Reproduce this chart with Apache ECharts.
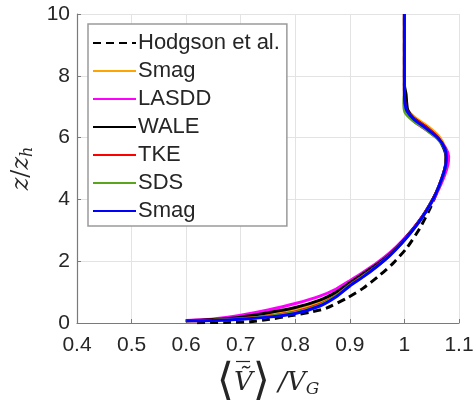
<!DOCTYPE html>
<html>
<head>
<meta charset="utf-8">
<script src="https://cdn.jsdelivr.net/npm/echarts@6/dist/echarts.min.js"></script>
<style>
html,body{margin:0;padding:0;background:#fff;}
#chart{width:476px;height:413px;}
</style>
</head>
<body>
<div id="chart"></div>
<script>
// ---- data: [x = <V>/V_G, y = z/z_h] ----
var hodgson = [[0.62,0.01],[0.67,0.02],[0.717,0.04],[0.753,0.12],[0.79,0.23],[0.827,0.35],[0.857,0.48],[0.894,0.80],[0.924,1.12],[0.955,1.55],[0.979,1.93],[1.004,2.42],[1.028,3.06],[1.047,3.71],[1.060,4.25],[1.070,4.70],[1.076,5.10],[1.077,5.40],[1.073,5.70],[1.060,6.02],[1.038,6.33],[1.016,6.62],[1.003,6.90],[1.000,7.20],[1.000,10]];
var smagA = [[0.600,0.07],[0.65,0.10],[0.70,0.16],[0.75,0.27],[0.80,0.43],[0.845,0.66],[0.875,0.94],[0.90,1.26],[0.925,1.56],[0.95,1.87],[0.973,2.21],[0.995,2.60],[1.015,3.02],[1.032,3.42],[1.046,3.82],[1.058,4.22],[1.068,4.66],[1.075,5.06],[1.077,5.36],[1.075,5.66],[1.064,6.02],[1.043,6.36],[1.020,6.64],[1.005,6.90],[1.001,7.15],[1.000,7.5],[1.000,10]];
var lasdd = [[0.600,0.08],[0.65,0.13],[0.70,0.25],[0.75,0.42],[0.80,0.63],[0.845,0.87],[0.875,1.10],[0.90,1.37],[0.925,1.65],[0.95,1.95],[0.975,2.30],[0.997,2.68],[1.017,3.08],[1.035,3.50],[1.050,3.90],[1.062,4.30],[1.073,4.75],[1.080,5.15],[1.081,5.40],[1.076,5.65],[1.062,5.95],[1.040,6.25],[1.018,6.52],[1.004,6.80],[1.000,7.10],[1.000,10]];
var wale = [[0.600,0.07],[0.65,0.11],[0.70,0.19],[0.75,0.33],[0.80,0.50],[0.845,0.74],[0.875,1.00],[0.90,1.30],[0.925,1.60],[0.95,1.90],[0.974,2.24],[0.996,2.63],[1.016,3.04],[1.033,3.44],[1.047,3.84],[1.059,4.24],[1.069,4.68],[1.075,5.08],[1.076,5.38],[1.072,5.66],[1.060,6.02],[1.038,6.36],[1.016,6.64],[1.006,6.90],[1.004,7.15],[1.003,7.40],[1.000,7.70],[1.000,10]];
var tke = [[0.600,0.07],[0.65,0.09],[0.70,0.14],[0.75,0.22],[0.80,0.36],[0.845,0.60],[0.875,0.89],[0.90,1.23],[0.925,1.53],[0.95,1.85],[0.973,2.19],[0.995,2.59],[1.015,3.01],[1.032,3.41],[1.046,3.81],[1.058,4.21],[1.068,4.65],[1.075,5.05],[1.077,5.35],[1.074,5.65],[1.062,5.99],[1.041,6.32],[1.019,6.60],[1.005,6.86],[1.001,7.10],[1.000,7.5],[1.000,10]];
var sds = [[0.598,0.07],[0.65,0.09],[0.70,0.13],[0.75,0.21],[0.80,0.34],[0.845,0.58],[0.875,0.88],[0.90,1.22],[0.925,1.52],[0.95,1.84],[0.973,2.18],[0.995,2.58],[1.015,3.00],[1.032,3.40],[1.046,3.80],[1.058,4.20],[1.068,4.64],[1.075,5.04],[1.077,5.34],[1.074,5.64],[1.061,5.96],[1.038,6.28],[1.015,6.56],[1.001,6.82],[0.999,7.10],[1.000,7.5],[1.000,10]];
var smagB = [[0.600,0.07],[0.65,0.08],[0.70,0.12],[0.75,0.19],[0.80,0.31],[0.845,0.55],[0.875,0.85],[0.90,1.20],[0.925,1.50],[0.949,1.82],[0.973,2.18],[0.995,2.58],[1.015,3.00],[1.032,3.40],[1.046,3.80],[1.058,4.20],[1.068,4.65],[1.075,5.05],[1.077,5.35],[1.074,5.65],[1.062,5.98],[1.040,6.30],[1.018,6.58],[1.005,6.85],[1.001,7.10],[1.000,7.5],[1.000,10]];

var seriesNames = ['Hodgson et al.','Smag','LASDD','WALE','TKE','SDS','Smag '];
var seriesData = [hodgson, smagA, lasdd, wale, tke, sds, smagB];
var seriesColors = ['#000000','#FFA500','#FF00FF','#000000','#FF0000','#5BA51E','#0000FF'];
var xTicks = {min:0.4, max:1.1, interval:0.1};
var yTicks = {min:0, max:10, interval:2};

var chart = echarts.init(document.getElementById('chart'), null, {renderer:'canvas'});
var txt = '#262626';
var series = seriesNames.map(function(n,i){
  return {
    name:n, type:'line', data:seriesData[i], showSymbol:false, symbol:'none',
    smooth:0.2, z: 2+i,
    lineStyle:{color:seriesColors[i], width:3, type: i===0 ? [8,5] : 'solid'},
    itemStyle:{color:seriesColors[i]}
  };
});
chart.setOption({
  animation:false,
  backgroundColor:'#ffffff',
  grid:{left:77, right:17, top:14, bottom:90, containLabel:false, outerBoundsMode:'none'},
  legend:{
    orient:'vertical', left:88, top:24,
    data:seriesNames,
    itemWidth:43, itemHeight:14, itemGap:6,
    padding:[8,7,4,4],
    backgroundColor:'#ffffff', borderColor:'#9a9a9a', borderWidth:1.5,
    itemStyle:{opacity:0},
    textStyle:{fontFamily:'Liberation Sans, Arial, sans-serif', fontSize:22, color:txt, padding:[0,0,0,-3]},
    selectedMode:false
  },
  graphic:[
    // overline accent of the x-axis label (sits above the tilde)
    {type:'line', silent:true, z:100, shape:{x1:236, y1:361.5, x2:250, y2:361.5}, style:{stroke:txt, lineWidth:1.2}}
  ],
  xAxis:{
    type:'value', min:xTicks.min, max:xTicks.max, interval:xTicks.interval,
    axisLine:{show:true, onZero:false, lineStyle:{color:'#7a7a7a', width:1.2}},
    axisTick:{show:true, inside:true, length:4, lineStyle:{color:'#7a7a7a'}},
    axisLabel:{fontFamily:'Liberation Sans, Arial, sans-serif', fontSize:21, color:txt, margin:12},
    splitLine:{show:true, lineStyle:{color:'#e3e3e3', width:1}},
    name:'{br|⟨}{v|V\u0303}{br|⟩}{n| /V}{sub|G}',
    nameLocation:'middle', nameGap:37,
    nameTextStyle:{
      rich:{
        br:{fontFamily:'DejaVu Serif', fontSize:44, color:txt, fontWeight:200},
        v:{fontFamily:'DejaVu Serif', fontStyle:'italic', fontSize:26, color:txt},
        n:{fontFamily:'DejaVu Serif', fontStyle:'italic', fontSize:26, color:txt},
        sub:{fontFamily:'DejaVu Serif', fontStyle:'italic', fontSize:17, color:txt, padding:[14,0,0,0]}
      }
    }
  },
  yAxis:{
    type:'value', min:yTicks.min, max:yTicks.max, interval:yTicks.interval,
    axisLine:{show:true, onZero:false, lineStyle:{color:'#7a7a7a', width:1.2}},
    axisTick:{show:true, inside:true, length:4, lineStyle:{color:'#7a7a7a'}},
    axisLabel:{fontFamily:'Liberation Sans, Arial, sans-serif', fontSize:21, color:txt, margin:7},
    splitLine:{show:true, lineStyle:{color:'#e3e3e3', width:1}},
    name:'{i|z}{n|/}{i|z}{sub|h}',
    nameLocation:'middle', nameGap:40, nameRotate:90,
    nameTextStyle:{
      rich:{
        i:{fontFamily:'DejaVu Serif', fontStyle:'italic', fontSize:24, color:txt},
        n:{fontFamily:'DejaVu Serif', fontSize:24, color:txt},
        sub:{fontFamily:'DejaVu Serif', fontStyle:'italic', fontSize:16, color:txt, padding:[12,0,0,0]}
      }
    }
  },
  series:series
});
</script>
</body>
</html>
